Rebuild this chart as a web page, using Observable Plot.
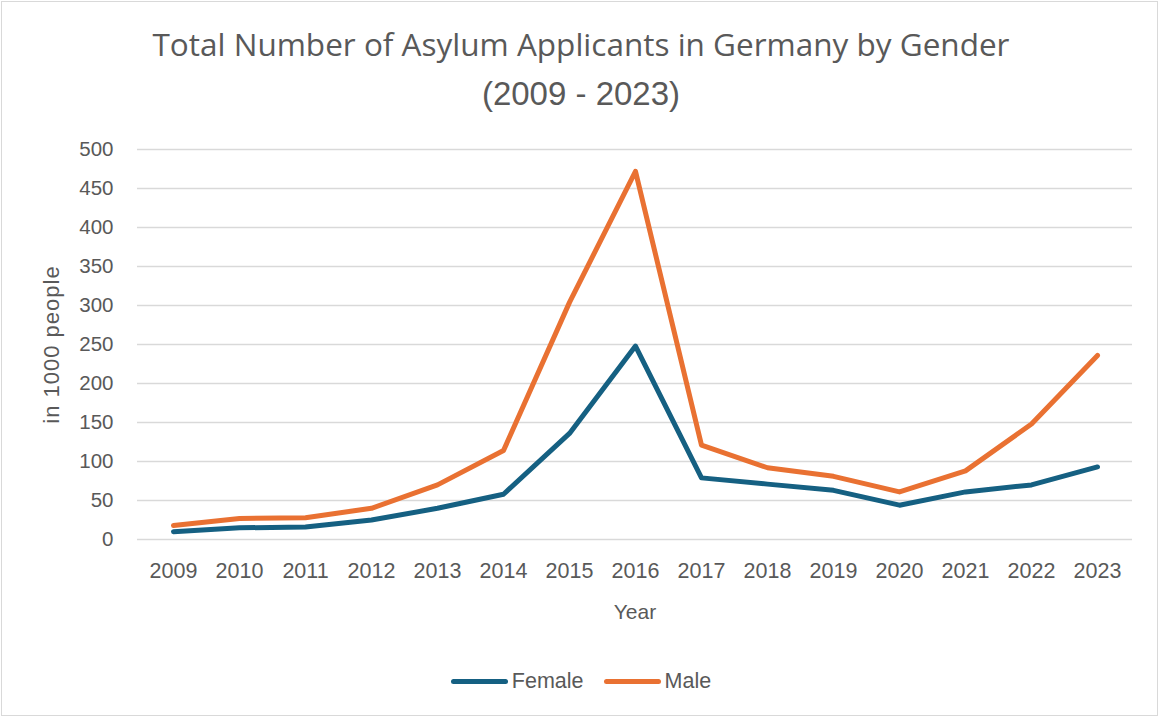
<!DOCTYPE html>
<html>
<head>
<meta charset="utf-8">
<script src="https://cdn.jsdelivr.net/npm/d3@7"></script>
<script src="https://cdn.jsdelivr.net/npm/@observablehq/plot@0.6"></script>
<style>
  html, body { margin: 0; padding: 0; background: #fff; }
  #frame { position: relative; width: 1162px; height: 720px; overflow: hidden; background: #fff; }
  #box { position: absolute; left: 1px; top: 1px; width: 1157px; height: 715px; border: 1.5px solid #d9d9d9; box-sizing: border-box; }
  .tline { position: absolute; left: 0; width: 1162px; text-align: center; color: #595959; white-space: nowrap; }
  #t1 { top: 28px; font-family: "Open Sans", sans-serif; font-size: 31.5px; line-height: 31.5px; }
  #t2 { top: 77px; font-family: "Liberation Sans", Arial, sans-serif; font-size: 33px; line-height: 33px; }
  #chart { position: absolute; left: 0; top: 130px; }
  #legend { position: absolute; left: 0; top: 669px; width: 1162px; display: flex; justify-content: center; gap: 20px; font-family: "Liberation Sans", Arial, sans-serif; font-size: 21.5px; color: #595959; }
  .item { display: flex; align-items: center; gap: 4px; }
  .sw { width: 57px; height: 5px; border-radius: 3px; }
</style>
</head>
<body>
<div id="frame">
  <div id="box"></div>
  <div id="t1" class="tline"></div>
  <div id="t2" class="tline"></div>
  <div id="chart"></div>
  <div id="legend"></div>
</div>
<script>
const titleLines = ["Total Number of Asylum Applicants in Germany by Gender", "(2009 - 2023)"];
const years = ["2009","2010","2011","2012","2013","2014","2015","2016","2017","2018","2019","2020","2021","2022","2023"];
const female = [10, 15, 16, 25, 40, 58, 136, 248, 79, 71, 63, 44, 61, 70, 93];
const male = [18, 27, 28, 40, 70, 114, 304, 472, 121, 92, 81, 61, 88, 148, 236];
const seriesNames = ["Female", "Male"];
const seriesColors = ["#156082", "#E97132"];
const yTicks = [0, 50, 100, 150, 200, 250, 300, 350, 400, 450, 500];
const xLabel = "Year";
const yLabel = "in 1000 people";

document.getElementById("t1").textContent = titleLines[0];
document.getElementById("t2").textContent = titleLines[1];

const data = [];
years.forEach((y, i) => {
  data.push({year: y, value: female[i], gender: seriesNames[0]});
  data.push({year: y, value: male[i], gender: seriesNames[1]});
});

const textColor = "#595959";
const chart = Plot.plot({
  width: 1162,
  height: 500,
  marginTop: 19,
  marginBottom: 91,
  marginLeft: 137,
  marginRight: 30,
  style: {fontFamily: "'Liberation Sans', Arial, sans-serif", fontSize: "20px", color: textColor, background: "transparent"},
  x: {type: "point", domain: years, padding: 0.5},
  y: {domain: [0, 500]},
  color: {domain: seriesNames, range: seriesColors},
  marks: [
    Plot.gridY(yTicks, {stroke: "#d9d9d9", strokeOpacity: 1, strokeWidth: 1.5}),
    Plot.axisY(yTicks, {tickSize: 0, tickPadding: 24, label: yLabel, labelAnchor: "center", labelOffset: 94, labelArrow: "none", fill: textColor}),
    Plot.axisX({tickSize: 0, tickPadding: 23, label: xLabel, labelAnchor: "center", labelOffset: 79, labelArrow: "none", fill: textColor}),
    Plot.line(data, {x: "year", y: "value", stroke: "gender", z: "gender", strokeWidth: 5, strokeLinecap: "round", strokeLinejoin: "round"})
  ]
});
const sel = d3.select(chart);
sel.selectAll('g[aria-label="y-axis label"]').style("font-size", "22px");
sel.selectAll('g[aria-label="y-axis label"] text').style("letter-spacing", "1px");
sel.selectAll('g[aria-label="x-axis label"]').style("font-size", "21px");
sel.selectAll('g[aria-label="y-axis tick label"]').style("font-size", "20.5px");
sel.selectAll('g[aria-label="x-axis tick label"]').style("font-size", "21.5px");
document.getElementById("chart").appendChild(chart);

const legend = document.getElementById("legend");
seriesNames.forEach((n, i) => {
  const it = document.createElement("div");
  it.className = "item";
  const sw = document.createElement("div");
  sw.className = "sw";
  sw.style.background = seriesColors[i];
  const tx = document.createElement("span");
  tx.textContent = n;
  it.appendChild(sw);
  it.appendChild(tx);
  legend.appendChild(it);
});
</script>
</body>
</html>
